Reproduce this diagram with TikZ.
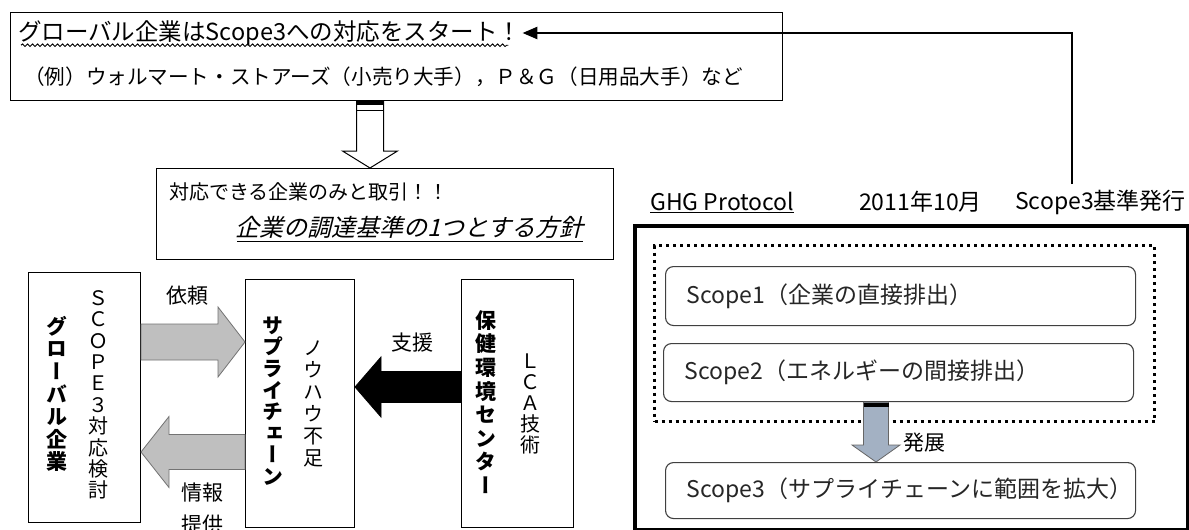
\documentclass[tikz,border=0pt]{standalone}
\usepackage{fontspec}
\setmainfont{Noto Sans CJK JP}
\newfontfamily\vjp[RawFeature=+vert]{Noto Sans CJK JP}
\newfontfamily\jpsl[FakeSlant=0.25]{Noto Sans CJK JP}
\usetikzlibrary{calc,arrows.meta,decorations.pathmorphing}
\newcommand\fs[2]{\fontsize{#1}{#2}\selectfont}
% horizontal block arrow: from, to, shaft half, head half, head length, style
\newcommand\hblock[6]{%
  \path[#6] let \p1=(#1), \p2=(#2), \n1={ifthenelse(\x2>\x1,1,-1)} in
   (\x1,\y1+#3) -- (\x2-\n1*#5,\y1+#3) -- (\x2-\n1*#5,\y1+#4) -- (\x2,\y1)
   -- (\x2-\n1*#5,\y1-#4) -- (\x2-\n1*#5,\y1-#3) -- (\x1,\y1-#3) -- cycle;}
% vertical block arrow
\newcommand\vblock[6]{%
  \path[#6] let \p1=(#1), \p2=(#2), \n1={ifthenelse(\y2>\y1,1,-1)} in
   (\x1+#3,\y1) -- (\x1+#3,\y2-\n1*#5) -- (\x1+#4,\y2-\n1*#5) -- (\x1,\y2)
   -- (\x1-#4,\y2-\n1*#5) -- (\x1-#3,\y2-\n1*#5) -- (\x1-#3,\y1) -- cycle;}
\begin{document}
\begin{tikzpicture}[x=1pt,y=-1pt,
  box/.style={draw, line width=1pt, inner sep=0pt},
  txt/.style={inner sep=1pt},
  vtext/.style={align=center, inner sep=0pt},
  scopebox/.style={draw=black!75, line width=1.1pt, rounded corners=8pt,
     anchor=north west, minimum height=#1, text width=428pt, inner xsep=21pt,
     inner ysep=0pt, align=left, font=\fs{23}{25}, text=black!85},
  grayarrow/.style={fill=black!25, draw=black!55, line width=0.8pt},
  blackarrow/.style={fill=black, draw=black, line width=0.8pt},
  hollowarrow/.style={fill=white, draw=black, line width=1pt},
  devarrow/.style={fill=devfill, draw=black!60, line width=0.8pt}]
\definecolor{devfill}{HTML}{A3B1C3}
\useasboundingbox (0,0) rectangle (1189,530);
\fill[white] (0,0) rectangle (1189,530);

% ---------- top box ----------
\node[box, anchor=north west, minimum width=772pt, minimum height=88pt] (top) at (10,12) {};
\node[txt, anchor=west, font=\fs{23.5}{25}] (l1) at (17,33) {グローバル企業はScope3への対応をスタート！};
\draw[line width=0.9pt, decorate, decoration={snake, amplitude=1.3pt, segment length=5pt}]
  ($(l1.base west)+(4,5)$) -- ($(l1.base east)+(-14,5)$);
\node[txt, anchor=west, font=\fs{20.6}{22}] (l2) at (23,77) {（例）ウォルマート・ストアーズ（小売り大手），Ｐ＆Ｇ（日用品大手）など};

% ---------- request box ----------
\node[box, anchor=north west, minimum width=457pt, minimum height=91pt] (req) at (156,168) {};
\node[txt, anchor=west, font=\fs{20}{22}] (r1) at (168,192) {対応できる企業のみと取引！！};
\node[txt, anchor=west, font=\jpsl\fs{24}{26}] (r2) at (234,227) {企業の調達基準の1つとする方針};
\draw[line width=1pt] ($(r2.base west)+(3,5)$) -- ($(r2.base east)+(-2,5)$);

\coordinate (xdown) at (370,0);
\vblock{xdown |- top.south}{xdown |- req.north}{13.5pt}{27.5pt}{17pt}{hollowarrow}
\fill ($(xdown |- top.south)+(-13.5,0)$) rectangle ($(xdown |- top.south)+(13.5,4)$);
\draw[line width=1pt] ($(xdown |- top.south)+(-13.5,9)$) -- ($(xdown |- top.south)+(13.5,9)$);

% ---------- left boxes ----------
\node[box, anchor=north west, minimum width=112pt, minimum height=250pt] (ga) at (28,272) {};
\node[box, anchor=north west, minimum width=109pt, minimum height=248pt] (sc) at (245,279) {};
\node[box, anchor=north west, minimum width=112pt, minimum height=248pt] (hc) at (461,279) {};

\node[vtext, font=\vjp\bfseries\fs{21}{22.6}] (gaT) at (57,394) {グ\\ロ\\ー\\バ\\ル\\企\\業};
\node[vtext, font=\vjp\fs{20}{21.4}] (gaS) at (98,395) {Ｓ\\Ｃ\\Ｏ\\Ｐ\\Ｅ\\３\\対\\応\\検\\討};
\node[vtext, font=\vjp\bfseries\fs{21}{21.6}] (scT) at (273,401) {サ\\プ\\ラ\\イ\\チ\\ェ\\ー\\ン};
\node[vtext, font=\vjp\fs{20}{22}] (scS) at (313,404) {ノ\\ウ\\ハ\\ウ\\不\\足};
\node[vtext, font=\vjp\bfseries\fs{21}{23.6}] (hcT) at (486,402) {保\\健\\環\\境\\セ\\ン\\タ\\ー};
\node[vtext, font=\vjp\fs{20}{21}] (hcS) at (530,404) {Ｌ\\Ｃ\\Ａ\\技\\術};

\coordinate (yreq) at (0,342);
\coordinate (yinfo) at (0,452);
\coordinate (ysup) at (0,387);
\hblock{ga.east |- yreq}{sc.west |- yreq}{18pt}{35pt}{27pt}{grayarrow}
\hblock{sc.west |- yinfo}{ga.east |- yinfo}{17.5pt}{35.5pt}{28pt}{grayarrow}
\hblock{hc.west |- ysup}{sc.east |- ysup}{15.5pt}{30pt}{26pt}{blackarrow}

\node[txt, font=\fs{21}{23}] (lreq) at (187,296) {依頼};
\node[txt, align=center, font=\fs{21}{32}] (linfo) at (202,509) {情報\\提供};
\node[txt, font=\fs{21}{23}] (lsup) at (412,343) {支援};

% ---------- right part ----------
\node[txt, anchor=west, font=\fs{23}{25}] (ghg) at (649,202) {\underline{GHG Protocol}};
\node[txt, anchor=west, font=\fs{23}{25}] (date) at (858,202) {2011年10月};
\node[txt, anchor=east, font=\fs{23}{25}] (pub) at (1187,202) {Scope3基準発行};

\node[draw, line width=3.5pt, anchor=north west, minimum width=553pt, minimum height=304pt, inner sep=0pt] (ghgbox) at (633,224) {};
\node[draw, line width=3pt, dash pattern=on 3pt off 4pt, anchor=north west, minimum width=500pt, minimum height=176pt, inner sep=0pt] (dots) at (653,244) {};

\node[scopebox=59pt] (s1) at (665,266) {Scope1（企業の直接排出）};
\node[scopebox=58pt] (s2) at (663,343) {Scope2（エネルギーの間接排出）};
\node[scopebox=56pt] (s3) at (665,462) {Scope3（サプライチェーンに範囲を拡大）};

\coordinate (xdev) at (876,0);
\vblock{xdev |- s2.south}{xdev |- s3.north}{12.5pt}{24pt}{17pt}{devarrow}
\fill ($(xdev |- s2.south)+(-12.5,1)$) rectangle ($(xdev |- s2.south)+(12.5,5)$);
\node[txt, anchor=west, font=\fs{21}{23}] (ldev) at (902,443) {発展};

% ---------- publication connector ----------
\coordinate (pubpt) at (1072,184);
\draw[line width=2.6pt, -{Triangle[length=15pt,width=12pt]}] (pubpt) |- (l1.east);
\end{tikzpicture}
\end{document}
